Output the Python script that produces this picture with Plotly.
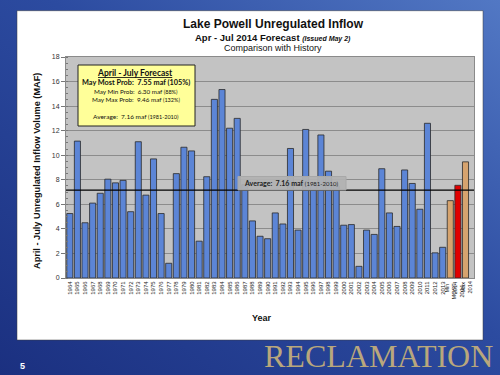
import base64
import plotly.graph_objects as go

# ---------------- data ----------------
years = ["1964", "1965", "1966", "1967", "1968", "1969", "1970", "1971", "1972", "1973",
         "1974", "1975", "1976", "1977", "1978", "1979", "1980", "1981", "1982", "1983",
         "1984", "1985", "1986", "1987", "1988", "1989", "1990", "1991", "1992", "1993",
         "1994", "1995", "1996", "1997", "1998", "1999", "2000", "2001", "2002", "2003",
         "2004", "2005", "2006", "2007", "2008", "2009", "2010", "2011", "2012", "2013"]
history = [5.25, 11.15, 4.5, 6.1, 6.9, 8.05, 7.75, 7.95, 5.4, 11.1,
           6.75, 9.7, 5.25, 1.2, 8.5, 10.65, 10.35, 3.0, 8.25, 14.55,
           15.35, 12.2, 13.0, 7.6, 4.65, 3.4, 3.2, 5.3, 4.4, 10.55,
           3.9, 12.1, 7.7, 11.65, 8.7, 7.5, 4.3, 4.35, 0.95, 3.9,
           3.55, 8.9, 5.3, 4.2, 8.8, 7.7, 5.6, 12.6, 2.05, 2.5]
forecast_labels = ["Min 2014", "MOST 2014", "Max 2014"]
forecast_tick_text = ["Min<br>2014", "MOST<br>2014", "Max<br>2014"]
forecast_values = [6.30, 7.55, 9.46]
average_value = 7.16

# ---------------- layout helpers ----------------
W, H = 500, 375
L, R, T, B = 66, 26, 57, 97
PW, PH = W - L - R, H - T - B


def px(x):
    return (x - L) / PW


def py(y):
    return (T + PH - y) / PH


BLUE = "#5c85d6"
TAN = "#d6a36e"
RED = "#e00000"

cats = years + forecast_labels
vals = history + forecast_values
colors = [BLUE] * len(years) + [TAN, RED, TAN]

fig = go.Figure()
fig.add_trace(go.Bar(
    x=cats, y=vals,
    marker=dict(color=colors, line=dict(color="#2a2a2a", width=0.8)),
    hoverinfo="x+y",
))

svg = ('<svg xmlns="http://www.w3.org/2000/svg" width="500" height="375">'
       '<defs><linearGradient id="g" x1="0" y1="1" x2="1" y2="0">'
       '<stop offset="0" stop-color="#1b3080"/>'
       '<stop offset="0.55" stop-color="#2c4ba0"/>'
       '<stop offset="1" stop-color="#5278c4"/>'
       '</linearGradient></defs>'
       '<rect width="500" height="375" fill="url(#g)"/></svg>')
src = "data:image/svg+xml;base64," + base64.b64encode(svg.encode()).decode()

shapes = [
    dict(type="rect", xref="paper", yref="paper", layer="below",
         x0=px(17), x1=px(483), y0=py(340), y1=py(10.7),
         fillcolor="white", line=dict(color="rgba(60,60,60,0.5)", width=1)),
    dict(type="rect", xref="paper", yref="paper", layer="below",
         x0=0, x1=1, y0=0, y1=1,
         fillcolor="#c3c3c3", line=dict(width=0)),
    dict(type="line", xref="paper", yref="y", layer="above",
         x0=0, x1=1, y0=average_value, y1=average_value,
         line=dict(color="black", width=1.3)),
    dict(type="rect", xref="paper", yref="paper", layer="above",
         x0=px(78), x1=px(195), y0=py(126), y1=py(65),
         fillcolor="#ffff99", line=dict(color="#222222", width=1)),
    dict(type="rect", xref="paper", yref="paper", layer="above",
         x0=px(238), x1=px(346), y0=py(190), y1=py(176.5),
         fillcolor="rgba(178,178,178,0.93)", line=dict(color="#a8a8a8", width=1)),
]


def ann(text, x, y, size, color="#111111", family="Liberation Sans", **kw):
    d = dict(text=text, x=px(x), y=py(y), xref="paper", yref="paper",
             showarrow=False, font=dict(size=size, color=color, family=family),
             xanchor="center", yanchor="middle")
    d.update(kw)
    return d


BOX_FONT = "Lato"
annotations = [
    ann("<b>Lake Powell Unregulated Inflow</b>", 273, 24, 12),
    ann("<b>Apr - Jul 2014 Forecast</b> <b><i><span style='font-size:7px'>(Issued May 2)</span></i></b>",
        273, 37.5, 9.5),
    ann("Comparison with History", 273, 48.5, 9),
    ann("<b>April - July Unregulated Inflow Volume (MAF)</b>", 37, 171, 9.2, textangle=-90),
    ann("<b>Year</b>", 262, 318, 9),
    ann("<b><u>April - July Forecast</u></b>", 135, 73, 8.5, family=BOX_FONT),
    ann("<b>May Most Prob:  7.55 maf (105%)</b>", 136, 82.5, 7.3, family=BOX_FONT),
    ann("May Min Prob:  6.30 maf <span style='font-size:5.5px'>(88%)</span>", 136, 91, 6.3, family=BOX_FONT),
    ann("May Max Prob:  9.46 maf <span style='font-size:5.5px'>(132%)</span>", 136, 99.5, 6.3, family=BOX_FONT),
    ann("Average:  7.16 maf <span style='font-size:5.5px'>(1981-2010)</span>", 136, 116.3, 6.5, family=BOX_FONT),
    ann("<b>Average:  7.16 maf</b> <span style='font-size:6px'>(1981-2010)</span>", 291, 183.3, 7,
        family=BOX_FONT, color="#222222"),
    ann("RECLAMATION", 495, 356, 32, color="#b9a77c", family="Liberation Serif", xanchor="right"),
    ann("<b>5</b>", 22, 366, 9, color="white"),
]

# forecast category labels (two short lines, rotated), placed at their categories
for cat, txt in zip(forecast_labels, forecast_tick_text):
    annotations.append(dict(
        text=txt, x=cat, xref="x", y=py(280), yref="paper", showarrow=False,
        textangle=-90, xanchor="center", yanchor="top",
        font=dict(size=5.6, color="#222222", family="Liberation Sans")))

fig.update_layout(
    width=W, height=H,
    margin=dict(l=L, r=R, t=T, b=B, pad=0),
    paper_bgcolor="#2c4aa0",
    plot_bgcolor="rgba(0,0,0,0)",
    showlegend=False,
    bargap=0.2,
    shapes=shapes,
    annotations=annotations,
    images=[dict(source=src, xref="paper", yref="paper", x=px(0), y=py(0),
                 sizex=W / PW, sizey=H / PH, xanchor="left", yanchor="top",
                 sizing="stretch", layer="below")],
    xaxis=dict(type="category", tickangle=-90, categoryorder="array", categoryarray=cats,
               tickmode="array", tickvals=cats, ticktext=years + ["", "", ""],
               tickfont=dict(size=6, color="#222222", family="Liberation Sans"),
               showline=True, linecolor="#8a8a8a", mirror=True, linewidth=1,
               ticks="", showgrid=False, fixedrange=True),
    yaxis=dict(range=[0, 18], dtick=2, tick0=0,
               tickfont=dict(size=7, color="#333333", family="Liberation Sans"),
               showgrid=True, gridcolor="#8c8c8c", gridwidth=1,
               showline=True, linecolor="#8a8a8a", mirror=True, linewidth=1,
               ticks="outside", ticklen=4, tickcolor="#777777",
               minor=dict(dtick=0.5, ticks="inside", ticklen=2, tickcolor="#777777", showgrid=False),
               zeroline=False, fixedrange=True),
)

fig.write_html("out.html", config={"displayModeBar": False},
               post_script="document.body.style.margin='0px';document.body.style.overflow='hidden';")
